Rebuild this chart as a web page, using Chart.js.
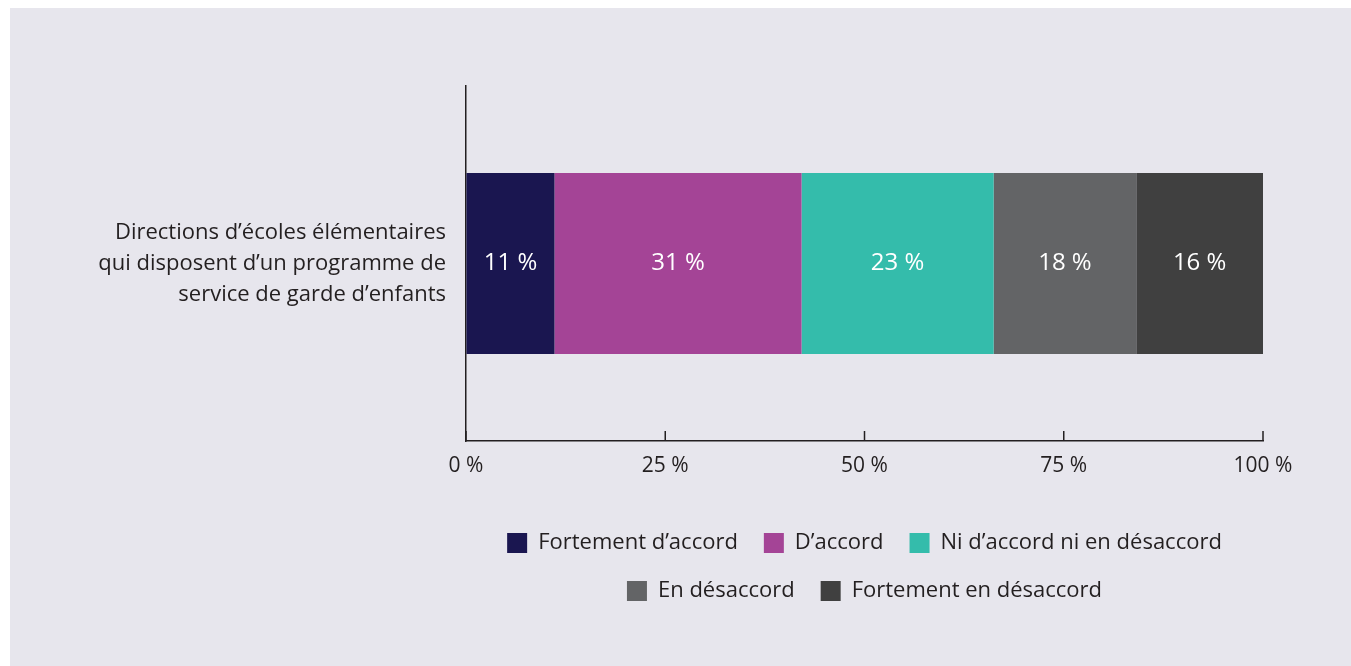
<!DOCTYPE html>
<html>
<head>
<meta charset="utf-8">
<script src="https://cdn.jsdelivr.net/npm/chart.js@4.4.1/dist/chart.umd.min.js"></script>
<style>
    html, body { margin: 0; padding: 0; background: #ffffff; overflow: hidden; }
    .panel { position: absolute; left: 10px; top: 8px; width: 1341px; height: 658px; background: #e7e6ed; }
</style>
</head>
<body>
<div class="panel">
    <canvas id="myChart" width="1341" height="658"></canvas>
</div>
<script>
const categories = [["Directions d’écoles élémentaires", "qui disposent d’un programme de", "service de garde d’enfants"]];
const seriesNames = ["Fortement d’accord", "D’accord", "Ni d’accord ni en désaccord", "En désaccord", "Fortement en désaccord"];
const seriesValues = [11.1, 31, 24.1, 17.9, 15.9];   // segment widths as drawn
const shownLabels = ["11 %", "31 %", "23 %", "18 %", "16 %"]; // labels printed on the bar
const seriesColors = ["#1a1650", "#a44496", "#34bcab", "#636466", "#404040"];
const xTicks = [0, 25, 50, 75, 100];

const fontFamily = "'Open Sans', sans-serif";
const textColor = "#231f20";

// white % labels inside each segment
const barLabels = {
    id: "barLabels",
    afterDatasetsDraw(chart) {
        const ctx = chart.ctx;
        ctx.save();
        ctx.fillStyle = "#ffffff";
        ctx.font = "24px " + fontFamily;
        ctx.textAlign = "center";
        ctx.textBaseline = "middle";
        chart.data.datasets.forEach((ds, i) => {
            const bar = chart.getDatasetMeta(i).data[0];
            const p = bar.getCenterPoint();
            ctx.fillText(shownLabels[i], p.x, p.y);
        });
        ctx.restore();
    }
};

// small tick marks pointing up into the chart
const innerTicks = {
    id: "innerTicks",
    afterDraw(chart) {
        const ctx = chart.ctx;
        const x = chart.scales.x;
        const bottom = chart.chartArea.bottom;
        ctx.save();
        ctx.strokeStyle = textColor;
        ctx.lineWidth = 1.5;
        xTicks.forEach(v => {
            const px = x.getPixelForValue(v);
            ctx.beginPath();
            ctx.moveTo(px, bottom);
            ctx.lineTo(px, bottom - 10);
            ctx.stroke();
        });
        ctx.restore();
    }
};

const ctx = document.getElementById("myChart");

new Chart(ctx, {
    type: "bar",
    data: {
        labels: categories,
        datasets: seriesNames.map((name, i) => ({
            label: name,
            data: [seriesValues[i]],
            backgroundColor: seriesColors[i],
            borderWidth: 0,
            categoryPercentage: 1,
            barPercentage: 0.51
        }))
    },
    options: {
        indexAxis: "y",
        responsive: false,
        animation: false,
        layout: { padding: { top: 78, right: 88, bottom: 54, left: 0 } },
        scales: {
            x: {
                stacked: true,
                min: 0,
                max: 100,
                afterBuildTicks: s => { s.ticks = xTicks.map(v => ({ value: v })); },
                afterFit: s => { s.height = 65; },
                ticks: {
                    callback: v => v + " %",
                    color: textColor,
                    font: { family: fontFamily, size: 21 },
                    padding: 12,
                    maxRotation: 0
                },
                grid: { drawOnChartArea: false, drawTicks: false },
                border: { display: true, color: textColor, width: 1.5 }
            },
            y: {
                stacked: true,
                afterFit: s => { s.width = 456; },
                ticks: {
                    color: textColor,
                    font: { family: fontFamily, size: 22, lineHeight: 1.41 },
                    padding: 20
                },
                grid: { drawOnChartArea: false, drawTicks: false },
                border: { display: true, color: textColor, width: 1.5 }
            }
        },
        plugins: {
            legend: {
                position: "bottom",
                fullSize: false,
                labels: {
                    boxWidth: 20,
                    boxHeight: 20,
                    padding: 26,
                    color: textColor,
                    font: { family: fontFamily, size: 22 }
                }
            },
            tooltip: { enabled: false }
        }
    },
    plugins: [barLabels, innerTicks]
});
</script>
</body>
</html>
